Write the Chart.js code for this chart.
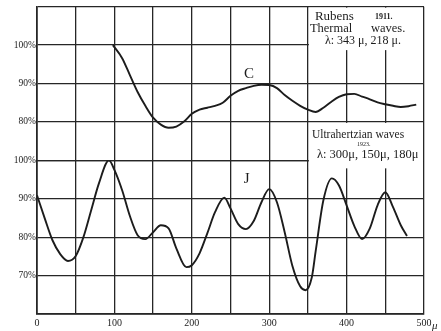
<!DOCTYPE html>
<html>
<head>
<meta charset="utf-8">
<script src="https://cdn.jsdelivr.net/npm/chart.js@4/dist/chart.umd.min.js"></script>
<style>
html,body{margin:0;padding:0;background:#fff;}
#wrap{width:441px;height:331px;position:relative;}
</style>
</head>
<body>
<div id="wrap"><canvas id="c" width="441" height="331"></canvas></div>
<script>
// Curve C (Rubens 1911, thermal waves) — wavelength (μ) and percent
const cX = [98,110,120,130,140,150,160,170,180,190,200,210,220,230,240,250,260,270,280,290,300,310,320,330,340,350,360,370,380,390,400,410,420,430,440,450,460,470,480,490];
const cPct = [100,96.6,92.2,87.8,84.2,81.1,79.3,78.5,78.8,80.1,82.1,83.2,83.7,84.2,85,86.8,88.1,88.8,89.4,89.7,89.6,88.8,87,85.5,84.2,83.2,82.6,83.7,85.2,86.5,87.2,87.3,86.6,85.9,85.1,84.6,84.2,83.9,84.1,84.5];
// Curve J (ultrahertzian waves 1923)
const jX = [0,10,20,30,40,50,60,70,80,93,100,110,120,130,140,150,160,170,180,193,200,210,220,230,242,250,260,270,280,290,300,310,320,330,340,347,355,360,370,381,390,400,410,420,430,440,450,460,470,478];
const jPct = [90.9,84.9,79.2,75.6,73.8,75.1,80,87,94,100,97.5,92.2,85.5,80.5,79.5,81.3,83.1,82.3,77.1,72.2,72.7,75.8,81,86.5,90.3,87.5,83.4,82.1,84.2,89.1,92.5,89.1,81.3,72.5,67.2,66.2,69.5,76.3,89.6,95.3,93.5,88.3,82.9,79.5,82.3,88.3,91.7,87.8,83.1,80.3];
// Tick labels
const xLabels = [0,100,200,300,400,500];
const yJLabels = [70,80,90,100];
const yCLabels = [80,90,100];

const INK = '#1c1c1c';
const GRID = '#262626';
const FONT = "'Liberation Serif', 'DejaVu Serif', serif";

const gridOpts = {color: GRID, lineWidth: 1.3, drawTicks: false};
const borderOpts = {color: GRID, width: 1.7};

const notes = {
  id: 'notes',
  afterDatasetsDraw(chart) {
    const ctx = chart.ctx;
    const x = chart.scales.x, yC = chart.scales.yC, yJ = chart.scales.yJ;
    const a = chart.chartArea;
    const bx = x.getPixelForValue(350) + 1;
    const bw = a.right - 1 - bx;
    ctx.save();
    ctx.fillStyle = '#fff';
    // box 1
    const b1t = a.top + 1, b1b = yC.getPixelForValue(100) + 5;
    ctx.fillRect(bx, b1t, bw, b1b - b1t);
    // box 2
    const b2t = yC.getPixelForValue(80) + 1, b2b = yJ.getPixelForValue(100) + 8;
    ctx.fillRect(bx, b2t, bw, b2b - b2t);
    ctx.fillStyle = INK;
    ctx.textBaseline = 'middle';
    ctx.textAlign = 'left';
    ctx.font = "13px " + FONT;
    ctx.fillText('Rubens', bx + 6, b1t + 9);
    ctx.font = "bold 8px " + FONT;
    ctx.fillText('1911.', bx + 66, b1t + 9);
    ctx.font = "12.5px " + FONT;
    ctx.fillText('Thermal', bx + 1, b1t + 21);
    ctx.fillText('waves.', bx + 62, b1t + 21);
    ctx.font = "12px " + FONT;
    ctx.fillText('\u03bb: 343 \u03bc, 218 \u03bc.', bx + 16, b1t + 33);
    ctx.font = "11.5px " + FONT;
    ctx.fillText('Ultrahertzian waves', bx + 3, b2t + 12);
    ctx.font = "6px " + FONT;
    ctx.fillText('1923.', bx + 48, b2t + 21);
    ctx.font = "12.5px " + FONT;
    ctx.fillText('\u03bb: 300\u03bc, 150\u03bc, 180\u03bc', bx + 8, b2t + 32);
    ctx.font = "15px " + FONT;
    ctx.textAlign = 'center';
    ctx.fillText('C', x.getPixelForValue(274), yC.getPixelForValue(92.4));
    ctx.fillText('J', x.getPixelForValue(271), yJ.getPixelForValue(95.2));
    ctx.font = "italic 11px " + FONT;
    ctx.textAlign = 'left';
    ctx.fillText('\u03bc', a.right + 8, a.bottom + 12);
    ctx.restore();
  }
};

new Chart(document.getElementById('c'), {
  type: 'line',
  data: {
    datasets: [
      {data: cX.map((v, i) => ({x: v, y: cPct[i]})), yAxisID: 'yC'},
      {data: jX.map((v, i) => ({x: v, y: jPct[i]})), yAxisID: 'yJ'}
    ]
  },
  options: {
    responsive: false,
    animation: false,
    events: [],
    layout: {padding: {top: 6, right: 17, left: 0, bottom: 0}},
    elements: {
      line: {borderColor: INK, borderWidth: 1.9, cubicInterpolationMode: 'monotone', fill: false},
      point: {radius: 0}
    },
    plugins: {legend: {display: false}, tooltip: {enabled: false}},
    scales: {
      x: {
        type: 'linear', min: 0, max: 500,
        grid: gridOpts, border: borderOpts,
        afterFit: s => { s.height = 17; },
        ticks: {
          stepSize: 50, autoSkip: false, maxRotation: 0, padding: 3,
          color: INK, font: {family: FONT, size: 10},
          callback: v => xLabels.includes(v) ? String(v) : ''
        }
      },
      yJ: {
        type: 'linear', position: 'left', stack: 'rows', stackWeight: 1,
        min: 60, max: 100,
        grid: gridOpts, border: borderOpts,
        afterFit: s => { s.width = 37; },
        ticks: {
          stepSize: 10, padding: 1, color: INK, font: {family: FONT, size: 9.5},
          callback: v => yJLabels.includes(v) ? v + '%' : ''
        }
      },
      yC: {
        type: 'linear', position: 'left', stack: 'rows', stackWeight: 1,
        min: 70, max: 110,
        grid: gridOpts, border: borderOpts,
        afterFit: s => { s.width = 37; },
        ticks: {
          stepSize: 10, padding: 1, color: INK, font: {family: FONT, size: 9.5},
          callback: v => yCLabels.includes(v) ? v + '%' : ''
        }
      }
    }
  },
  plugins: [notes]
});
</script>
</body>
</html>
